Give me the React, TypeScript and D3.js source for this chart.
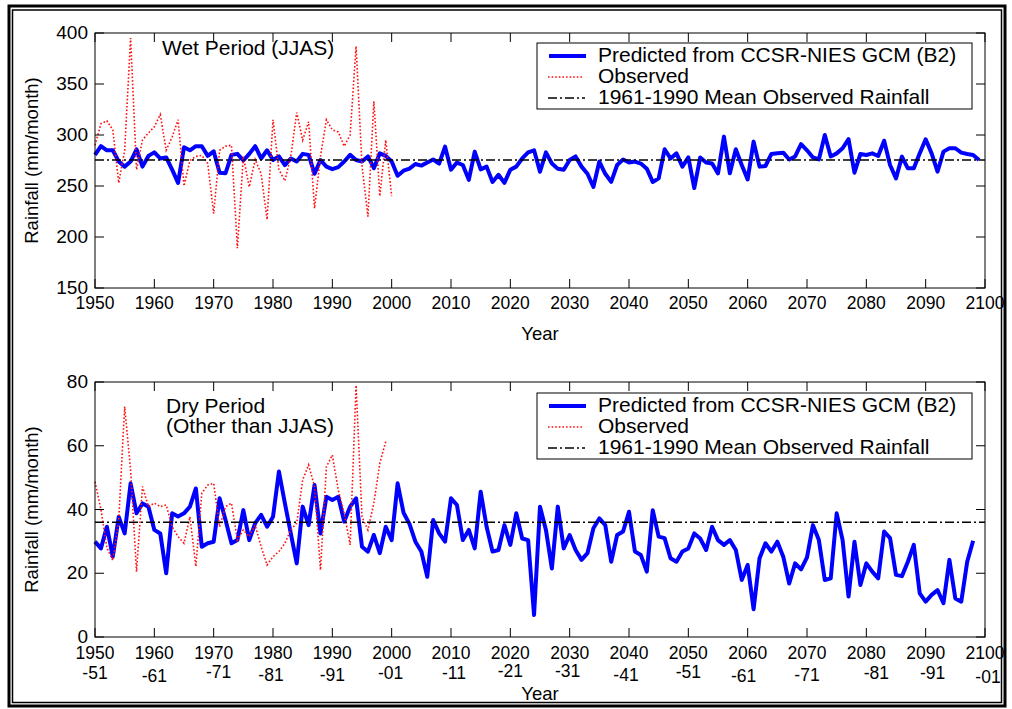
import React from "react";
import * as d3 from "d3";

// ---------------- DATA ----------------
const xTickYears = [1950, 1960, 1970, 1980, 1990, 2000, 2010, 2020, 2030, 2040, 2050, 2060, 2070, 2080, 2090, 2100];
const dryTickSuffix = ["-51", "-61", "-71", "-81", "-91", "-01", "-11", "-21", "-31", "-41", "-51", "-61", "-71", "-81", "-91", "-01"];
const wetYTicks = [150, 200, 250, 300, 350, 400];
const dryYTicks = [0, 20, 40, 60, 80];

const wetMean = 275.5;
const dryMean = 36;

// Wet period (JJAS) predicted, 1950-2099
const wetPredicted = [
  280.5, 289, 285, 285, 274, 269, 274, 286, 269, 279.5,
  283, 277, 278, 266, 253, 288, 285, 289, 289, 279.5,
  284, 263, 262.5, 280.5, 281.5, 275, 281.5, 289, 277, 285,
  275.5, 279, 270.5, 277, 274, 281.5, 280.5, 262, 275.5, 269,
  266.5, 268.5, 274, 280.5, 275.5, 274, 279, 267.5, 282, 279.5,
  274, 260, 265, 267, 271.6, 270, 273, 276, 272, 288.6,
  266, 273, 270.6, 256, 283.7, 266.3, 269, 254, 261, 253,
  266, 269, 277, 283, 285, 264, 283, 272, 267, 266,
  275.5, 279, 269, 262, 249, 274, 262, 254, 270.6, 276,
  273, 274, 272, 267, 254, 257.5, 286, 277, 282, 269,
  278, 248, 278, 273, 272, 262.4, 298.4, 262.4, 286, 270.6,
  256.5, 293.5, 269, 269.6, 281.4, 282, 282.7, 276, 279, 291,
  285, 278, 276, 300, 279, 282, 287, 296, 263, 281.4,
  280.4, 282, 279.4, 294.4, 270.6, 257.5, 278.8, 267.3, 267.3, 282,
  295.8, 282, 264, 283.7, 287, 287, 282.7, 281.4, 280.4, 275.5,
];

// Wet period observed, 1950-2000
const wetObserved = [
  290, 311, 314, 305, 253, 285, 395, 266, 295, 302,
  308, 320, 285, 298, 315, 250, 275, 279, 280, 272,
  223, 285, 289, 290, 189, 279, 249, 276, 262, 217,
  315, 266, 255, 279, 322, 295, 313, 228, 279, 315,
  305, 303, 289, 300, 387, 270, 220, 333, 240, 295,
  240,
];

// Dry period predicted, 1950-2098
const dryPredicted = [
  29.9, 27.8, 34.6, 25.2, 37.7, 32.5, 48.2, 38.8, 41.9, 40.9,
  33.6, 32.5, 20, 38.8, 37.8, 38.8, 40.9, 46.6, 28.3, 29.4,
  29.9, 43.5, 36.7, 29.4, 30.4, 39.8, 30.4, 35.7, 38.3, 34.6,
  37.7, 51.9, 42, 32.5, 23.1, 40.9, 35.1, 47.7, 32.5, 44,
  43, 44, 36.2, 40.9, 43.5, 28.3, 26.8, 32, 26.3, 34.6,
  30.4, 48.2, 39, 35.5, 29.9, 26.8, 18.9, 36.7, 32.5, 29.9,
  43.5, 41.4, 30.4, 33.6, 27.8, 45.6, 34.6, 26.8, 27.3, 35.1,
  28.9, 38.8, 30.9, 30.4, 6.9, 40.9, 33.6, 21.5, 40.9, 27.8,
  32, 27.3, 24.2, 26.3, 34.1, 37.2, 35.1, 23.6, 32, 33.1,
  39.3, 26.8, 25.7, 20.5, 39.8, 31.5, 31, 24.7, 23.6, 26.8,
  27.8, 32.5, 30.9, 27.3, 34.6, 30.4, 28.9, 30.4, 27.3, 17.9,
  22.6, 8.7, 24.7, 29.4, 26.8, 29.9, 25.2, 16.8, 23.1, 21.2,
  25, 35.1, 30.4, 17.9, 18.4, 38.8, 30.4, 12.7, 29.9, 16.3,
  23.1, 20.5, 18.4, 33.1, 31, 19.5, 19.1, 23.6, 28.9, 13.7,
  11.1, 13.2, 14.7, 10.6, 24.2, 12.1, 11.1, 23.6, 30.2,
];

// Dry period observed, 1950-1999
const dryObserved = [
  48.7, 40, 28, 24, 36.7, 72.3, 52.4, 20.5, 47.2, 40.9,
  42, 40.9, 41.4, 34.6, 31.5, 29.4, 37.7, 22.1, 45.1, 47.7,
  48.2, 34.6, 40.9, 42, 30.4, 33.6, 31.5, 35.1, 28.3, 22.6,
  25.2, 26.8, 29.4, 33.6, 35.7, 49.3, 54, 47.2, 21, 53.4,
  57.1, 46.1, 38.8, 28.9, 79, 37.7, 33.6, 42, 54.5, 61.3,
];

const legendLabels = ["Predicted from CCSR-NIES GCM (B2)", "Observed", "1961-1990 Mean Observed Rainfall"];

// ---------------- LAYOUT / STYLE ----------------
const W = 1012;
const H = 709;
const FONT = "'Liberation Sans', Arial, Helvetica, sans-serif";
const XTICK_FS = 17.5;
const YTICK_FS = 19;
const LABEL_FS = 18.5;
const LEG_FS = 21;
const TICK_LEN = 9;
const PLOT_L = 95;
const PLOT_R = 985;
const BLUE = "#0000ff";
const RED = "#ff1010";
const suffixDx = [0, 0, 5, -2, 0, -1, 3, 0, -2, -3, 0, -4, 0, 10, 7, 3];
const suffixDy = [0, 3, -1, 2, 2, 0, 0, -2, -2, 2, -1, 3, 2, 0, 0, 4];

const x = d3.scaleLinear().domain([1950, 2100]).range([PLOT_L, PLOT_R]);

type Pt = { year: number; value: number };
const toPts = (start: number, arr: number[]): Pt[] => arr.map((v, i) => ({ year: start + i, value: v }));

function Panel(props: {
  top: number;
  bottom: number;
  domain: [number, number];
  yTicks: number[];
  predicted: number[];
  observed: number[];
  mean: number;
  legendTop: number;
  children?: React.ReactNode;
}) {
  const { top, bottom, domain, yTicks, predicted, observed, mean, legendTop } = props;
  const y = d3.scaleLinear().domain(domain).range([bottom, top]);
  const line = d3
    .line<Pt>()
    .x((d) => x(d.year))
    .y((d) => y(d.value));
  const predPath = line(toPts(1950, predicted)) || "";
  const obsPath = line(toPts(1950, observed)) || "";
  const meanPath =
    line([
      { year: 1950, value: mean },
      { year: 2100, value: mean },
    ]) || "";

  const legL = 537;
  const legR = 972;
  const legH = 66;
  return (
    <g>
      <rect x={PLOT_L} y={top} width={PLOT_R - PLOT_L} height={bottom - top} fill="#fff" />
      <path d={predPath} fill="none" stroke={BLUE} strokeWidth={4} strokeLinejoin="round" />
      <path d={obsPath} fill="none" stroke={RED} strokeWidth={1.6} strokeDasharray="1.6 2" />
      <path d={meanPath} fill="none" stroke="#000" strokeWidth={1.5} strokeDasharray="9 3 2 3" />
      {/* frame */}
      <rect x={PLOT_L} y={top} width={PLOT_R - PLOT_L} height={bottom - top} fill="none" stroke="#000" strokeWidth={1} />
      {/* x ticks */}
      {xTickYears.map((t) => (
        <g key={"xt" + t}>
          <line x1={x(t)} x2={x(t)} y1={bottom} y2={bottom - TICK_LEN} stroke="#000" strokeWidth={1} />
          <line x1={x(t)} x2={x(t)} y1={top} y2={top + TICK_LEN} stroke="#000" strokeWidth={1} />
        </g>
      ))}
      {/* y ticks */}
      {yTicks.map((t) => (
        <g key={"yt" + t}>
          <line x1={PLOT_L} x2={PLOT_L + TICK_LEN} y1={y(t)} y2={y(t)} stroke="#000" strokeWidth={1} />
          <line x1={PLOT_R} x2={PLOT_R - TICK_LEN} y1={y(t)} y2={y(t)} stroke="#000" strokeWidth={1} />
          <text x={PLOT_L - 7} y={y(t)} dy="0.32em" textAnchor="end" fontSize={YTICK_FS} fontFamily={FONT}>
            {t}
          </text>
        </g>
      ))}
      {/* y label */}
      <text
        transform={`translate(38, ${(top + bottom) / 2}) rotate(-90)`}
        textAnchor="middle"
        fontSize={LABEL_FS}
        fontFamily={FONT}
      >
        Rainfall (mm/month)
      </text>
      {/* legend */}
      <rect x={legL} y={legendTop} width={legR - legL} height={legH} fill="#fff" stroke="#000" strokeWidth={1} />
      <line x1={legL + 12} x2={legL + 49} y1={legendTop + 13} y2={legendTop + 13} stroke={BLUE} strokeWidth={4} />
      <line x1={legL + 11} x2={legL + 46} y1={legendTop + 34} y2={legendTop + 34} stroke={RED} strokeWidth={1.6} strokeDasharray="1.6 2" />
      <line x1={legL + 11} x2={legL + 48} y1={legendTop + 55} y2={legendTop + 55} stroke="#000" strokeWidth={1.5} strokeDasharray="9 3 2 3" />
      {legendLabels.map((lab, i) => (
        <text key={lab} x={legL + 61} y={legendTop + 19 + i * 21} fontSize={LEG_FS} fontFamily={FONT}>
          {lab}
        </text>
      ))}
      {props.children}
    </g>
  );
}

export default function App() {
  const topT = 33;
  const topB = 288;
  const botT = 382;
  const botB = 637;
  return (
    <svg
      width={W}
      height={H}
      viewBox={`0 0 ${W} ${H}`}
      style={{ position: "absolute", left: 0, top: 0, display: "block", background: "#fff" }}
    >
      <rect x={0} y={0} width={W} height={H} fill="#fff" />
      {/* double frame */}
      <rect x={9} y={6} width={996} height={700} fill="none" stroke="#000" strokeWidth={3} />
      <rect x={12.5} y={10} width={989} height={692.5} fill="none" stroke="#000" strokeWidth={1.5} />

      <Panel
        top={topT}
        bottom={topB}
        domain={[150, 400]}
        yTicks={wetYTicks}
        predicted={wetPredicted}
        observed={wetObserved}
        mean={wetMean}
        legendTop={43}
      >
        <text x={162} y={55} fontSize={LEG_FS} fontFamily={FONT}>
          Wet Period (JJAS)
        </text>
        {xTickYears.map((t) => (
          <text key={"xl" + t} x={x(t)} y={topB + 21} textAnchor="middle" fontSize={XTICK_FS} fontFamily={FONT}>
            {t}
          </text>
        ))}
        <text x={(PLOT_L + PLOT_R) / 2} y={340} textAnchor="middle" fontSize={LABEL_FS} fontFamily={FONT}>
          Year
        </text>
      </Panel>

      <Panel
        top={botT}
        bottom={botB}
        domain={[0, 80]}
        yTicks={dryYTicks}
        predicted={dryPredicted}
        observed={dryObserved}
        mean={dryMean}
        legendTop={393}
      >
        <text fontSize={LEG_FS} fontFamily={FONT}>
          <tspan x={166} y={413}>
            Dry Period
          </tspan>
          <tspan x={166} y={433}>
            (Other than JJAS)
          </tspan>
        </text>
        {xTickYears.map((t, i) => (
          <g key={"bxl" + t}>
            <text x={x(t)} y={botB + 22} textAnchor="middle" fontSize={XTICK_FS} fontFamily={FONT}>
              {t}
            </text>
            <text
              x={x(t) + suffixDx[i]}
              y={botB + 42 + suffixDy[i]}
              textAnchor="middle"
              fontSize={XTICK_FS}
              fontFamily={FONT}
            >
              {dryTickSuffix[i]}
            </text>
          </g>
        ))}
        <text x={(PLOT_L + PLOT_R) / 2} y={700} textAnchor="middle" fontSize={LABEL_FS} fontFamily={FONT}>
          Year
        </text>
      </Panel>
    </svg>
  );
}
